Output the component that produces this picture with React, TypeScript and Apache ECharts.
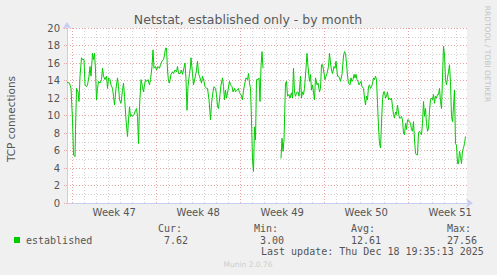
import React, { useEffect, useRef } from "react";
import * as echarts from "echarts";

// x: hours since the left edge of the plot (800 h = 33.3 days), y: TCP connections
const hours = [
  0, 5, 8, 11, 13, 16, 17, 19, 22, 24,
  26, 29, 31, 34, 36, 39, 41, 44, 46, 48,
  51, 53, 55, 57, 59, 61, 63, 66, 69, 71,
  73, 76, 79, 81, 83, 86, 88, 91, 93, 95,
  98, 101, 103, 105, 108, 111, 113, 115, 118, 121,
  123, 125, 127, 129, 131, 134, 137, 139, 141, 143,
  145, 148, 151, 153, 155, 157, 159, 162, 165, 167,
  170, 172, 174, 177, 179, 182, 185, 187, 190, 193,
  195, 197, 199, 201, 203, 205, 208, 211, 213, 216,
  219, 221, 223, 226, 229, 231, 233, 236, 238, 240,
  242, 245, 247, 248, 251, 253, 256, 259, 261, 263,
  266, 269, 271, 274, 276, 279, 281, 284, 287, 289,
  292, 294, 297, 299, 301, 303, 306, 308, 311, 313,
  315, 317, 319, 322, 325, 327, 330, 332, 335, 337,
  340, 343, 345, 348, 351, 353, 355, 358, 361, 363,
  365, 367, 369, 371, 373, 375, 377, 379, 382, 384,
  386, 388, 390, 392,
  410,
  428, 430, 432, 434, 437, 439, 441, 444, 446, 449,
  451, 453, 455, 457, 459, 462, 464, 467, 469, 471,
  473, 475, 478, 480, 482, 485, 487, 489, 491, 493,
  495, 497, 500, 502, 505, 507, 509, 511, 513, 516,
  518, 520, 523, 525, 527, 529, 531, 534, 536, 538,
  541, 543, 545, 547, 550, 553, 555, 557, 559, 561,
  563, 566, 568, 570, 572, 574, 576, 578, 580, 582,
  584, 586, 588, 590,
  593, 595, 597, 599, 601, 603, 605, 607, 609, 611,
  613, 615, 617, 619, 621, 623, 625, 627, 629, 631,
  633, 635, 637, 639, 641, 643, 645, 647, 649, 651,
  653, 655, 657, 659, 661, 663, 665, 667, 669, 671,
  673, 675, 677, 679, 681, 683, 685, 687, 689, 691,
  693, 695, 697, 699, 701, 703, 705, 707, 709, 711,
  713, 715, 717, 719, 721, 723, 725, 727, 729, 731,
  733, 735, 737, 739, 741, 743, 745, 747, 749, 751,
  753, 755, 757, 759, 761, 763, 765, 767, 769, 771,
  773, 775, 777, 779, 781, 783, 785, 787, 789, 791,
  793, 795, 797,
];

const connections: (number | null)[] = [
  13.8, 13.7, 13.1, 9.5, 5.5, 5.3, 8.4, 13.1, 12.7, 11.6,
  14.5, 16.6, 16.4, 16.4, 13.5, 13.3, 13.5, 14.5, 15.6, 14.5,
  17.1, 16.4, 17.1, 15.2, 11.8, 13.1, 13.9, 13.7, 14.1, 15.4,
  14.5, 14.1, 14.5, 13.1, 14.3, 14.1, 13.5, 13.1, 12.2, 11.2,
  13.1, 14.3, 13.3, 11.8, 11.4, 12.9, 13.7, 12.2, 9.5, 7.6,
  9.5, 11.0, 9.9, 10.1, 9.9, 10.1, 10.6, 10.8, 9.9, 6.8,
  11.0, 14.1, 13.3, 12.7, 13.5, 14.1, 13.9, 14.1, 13.5, 14.1,
  15.6, 17.5, 15.4, 15.6, 15.2, 15.6, 15.4, 15.8, 16.2, 16.4,
  16.9, 17.7, 17.7, 15.2, 13.9, 13.7, 14.7, 15.0, 14.8, 15.2,
  15.0, 15.6, 14.8, 14.8, 15.2, 14.7, 15.2, 16.0, 14.1, 10.6,
  13.3, 14.8, 15.6, 16.6, 14.8, 13.5, 14.3, 15.2, 16.2, 14.8,
  14.3, 13.7, 14.5, 13.9, 13.3, 13.1, 13.1, 11.8, 9.5, 11.4,
  12.7, 13.3, 13.1, 12.4, 11.0, 10.8, 12.4, 13.5, 14.3, 13.3,
  11.8, 12.9, 12.0, 12.9, 13.9, 13.5, 13.3, 12.7, 13.1, 12.7,
  12.9, 13.1, 12.6, 12.4, 11.8, 12.9, 13.5, 14.3, 14.1, 14.8,
  13.7, 13.1, 9.5, 4.9, 3.6, 8.7, 7.2, 14.1, 14.1, 14.3,
  11.6, 15.6, 17.3, 15.4,
  null,
  5.1, 7.4, 5.9, 7.2, 13.7, 13.9, 12.2, 12.4, 12.0, 12.6,
  12.0, 15.4, 12.7, 12.2, 12.6, 12.7, 12.2, 14.5, 12.0, 12.7,
  12.4, 13.1, 15.4, 17.1, 15.6, 13.9, 14.7, 12.9, 13.5, 12.7,
  11.8, 14.3, 13.5, 13.7, 12.7, 13.1, 15.8, 15.8, 15.2, 14.1,
  14.5, 14.8, 15.6, 17.1, 16.0, 15.2, 14.8, 15.6, 15.4, 16.2,
  14.5, 14.5, 14.3, 13.9, 14.7, 16.8, 17.3, 17.1, 16.0, 14.5,
  13.7, 13.5, 14.3, 13.9, 14.1, 14.7, 14.3, 14.7, 14.1, 13.9,
  13.5, 13.7, 13.9, 13.3,
  13.1, 12.0, 11.2, 12.2, 11.8, 13.3, 13.5, 13.1, 13.3, 13.7,
  14.3, 14.1, 14.5, 14.1, 11.4, 8.7, 6.8, 6.3, 9.1, 11.8,
  12.7, 12.7, 12.0, 12.2, 12.7, 11.8, 12.0, 11.8, 12.0, 11.0,
  10.1, 9.7, 10.4, 10.1, 11.2, 10.3, 9.7, 9.7, 9.9, 9.5,
  8.0, 7.8, 9.1, 8.4, 9.5, 9.5, 9.3, 9.1, 8.4, 8.2,
  9.3, 7.2, 5.7, 5.5, 5.5, 8.0, 8.2, 8.0, 7.8, 9.1,
  11.6, 9.9, 10.8, 9.1, 8.2, 8.5, 10.6, 11.8, 12.0, 11.8,
  12.4, 11.4, 12.2, 12.0, 12.4, 12.4, 13.1, 11.6, 10.8, 14.3,
  17.9, 16.9, 14.1, 13.5, 14.3, 15.0, 15.8, 13.7, 9.9, 9.3,
  11.0, 12.9, 6.8, 6.6, 4.5, 4.5, 5.9, 5.3, 4.5, 6.0,
  6.3, 6.8, 7.6,
];

const weekLabels = ["Week 47", "Week 48", "Week 49", "Week 50", "Week 51"];
const titleText = "Netstat, established only - by month";
const yAxisName = "TCP connections";
const seriesName = "established";
const statLabels = ["Cur:", "Min:", "Avg:", "Max:"];
const statValues = ["7.62", "3.00", "12.61", "27.56"];
const lastUpdate = "Last update: Thu Dec 18 19:35:13 2025";
const sideText = "RRDTOOL / TOBI OETIKER";
const footerText = "Munin 2.0.76";

// axis configuration
const X_MAX = 800;
const FIRST_SUNDAY = 10.5; // hours from left edge to the first week boundary
const DAY = 24;
const WEEK = 168;

const SANS = '"DejaVu Sans", Verdana, sans-serif';
const MONO = '"DejaVu Sans Mono", monospace';
const TEXT = "#555555";
const AXIS = "#c8cdf2";
const RED = "#eaa3a3";
const GRAY = "#d2d2d2";
const GREEN = "#00cc00";

export default function App() {
  const ref = useRef<HTMLDivElement>(null);

  useEffect(() => {
    document.body.style.margin = "0";
    document.body.style.background = "#f0f0f0";
    const chart = echarts.init(ref.current!, null, { renderer: "svg" });

    const dayTicks: number[] = [];
    for (let t = FIRST_SUNDAY; t <= X_MAX; t += DAY) dayTicks.push(t);
    const weekTicks: number[] = [];
    for (let t = FIRST_SUNDAY; t <= X_MAX; t += WEEK) weekTicks.push(t);
    const weekCenters = weekLabels.map((_, i) => FIRST_SUNDAY + WEEK / 2 + i * WEEK);

    const data = hours.map((h, i) => [h, connections[i] === null ? "-" : connections[i]]);

    const statX = [158, 254, 351, 447];
    const valX = [164, 260, 351, 447];

    const graphics: any[] = [
      {
        type: "text", x: 248, y: 19,
        style: { text: titleText, fill: "#5a5a5a", font: `12.5px ${SANS}`, textAlign: "center", textVerticalAlign: "middle" },
      },
      {
        type: "text", x: 11, y: 119, rotation: Math.PI / 2,
        style: { text: yAxisName, fill: TEXT, font: `10.5px ${SANS}`, textAlign: "center", textVerticalAlign: "middle" },
      },
      {
        type: "text", x: 487, y: 54, rotation: -Math.PI / 2,
        style: { text: sideText, fill: "#c4c4c4", font: `7.5px ${SANS}`, textAlign: "center", textVerticalAlign: "middle" },
      },
      { type: "rect", shape: { x: 14, y: 237, width: 6, height: 6 }, style: { fill: GREEN } },
      {
        type: "text", x: 26, y: 240,
        style: { text: seriesName, fill: TEXT, font: `10px ${MONO}`, textAlign: "left", textVerticalAlign: "middle" },
      },
      {
        type: "text", x: 261, y: 251.5,
        style: { text: lastUpdate, fill: TEXT, font: `10px ${MONO}`, textAlign: "left", textVerticalAlign: "middle" },
      },
      {
        type: "text", x: 248, y: 264,
        style: { text: footerText, fill: "#cdcdcd", font: `7.5px ${SANS}`, textAlign: "center", textVerticalAlign: "middle" },
      },
    ];
    statLabels.forEach((s, i) => {
      graphics.push({
        type: "text", x: statX[i], y: 228,
        style: { text: s, fill: TEXT, font: `10px ${MONO}`, textAlign: "left", textVerticalAlign: "middle" },
      });
      graphics.push({
        type: "text", x: valX[i], y: 240,
        style: { text: statValues[i], fill: TEXT, font: `10px ${MONO}`, textAlign: "left", textVerticalAlign: "middle" },
      });
    });

    const option: any = {
      animation: false,
      backgroundColor: "#f0f0f0",
      grid: {
        left: 67, top: 28, width: 400, height: 175,
        show: true, backgroundColor: "#ffffff", borderWidth: 0,
        containLabel: false, outerBoundsMode: "none",
      },
      xAxis: [
        {
          type: "value", min: 0, max: X_MAX, position: "bottom",
          axisLine: {
            show: true, onZero: false,
            lineStyle: { color: AXIS, width: 1 },
            symbol: ["none", "arrow"], symbolSize: [7, 7], symbolOffset: [0, 6],
          },
          axisTick: { show: false, customValues: dayTicks },
          axisLabel: { show: false },
          splitLine: { show: true, lineStyle: { color: GRAY, width: 1, type: [1, 2] } },
        },
        {
          type: "value", min: 0, max: X_MAX, position: "bottom",
          axisLine: { show: false },
          axisTick: { show: false, customValues: weekTicks },
          axisLabel: {
            show: true, customValues: weekCenters, margin: 4,
            fontSize: 10, color: TEXT, fontFamily: SANS,
            formatter: (v: number) => {
              const i = weekCenters.findIndex((c) => Math.abs(c - v) < 1);
              return i >= 0 ? weekLabels[i] : "";
            },
          },
          splitLine: { show: true, lineStyle: { color: RED, width: 1, type: [1, 2] } },
        },
      ],
      yAxis: {
        type: "value", min: 0, max: 20, interval: 2,
        axisLine: {
          show: true, onZero: false,
          lineStyle: { color: AXIS, width: 1 },
          symbol: ["none", "arrow"], symbolSize: [7, 7], symbolOffset: [0, 6],
        },
        axisTick: { show: true, length: 3, lineStyle: { color: RED, type: [1, 1] } },
        axisLabel: { fontSize: 10, color: TEXT, margin: 7, fontFamily: SANS },
        splitLine: { show: true, lineStyle: { color: RED, width: 1, type: [1, 2] } },
        minorTick: { show: false, splitNumber: 2 },
        minorSplitLine: { show: true, lineStyle: { color: GRAY, width: 1, type: [1, 2] } },
      },
      series: [
        {
          name: seriesName,
          type: "line",
          xAxisIndex: 0,
          data,
          showSymbol: false,
          symbol: "none",
          connectNulls: false,
          lineStyle: { color: GREEN, width: 1 },
          itemStyle: { color: GREEN },
          z: 5,
        },
      ],
      graphic: graphics,
    };

    chart.setOption(option);
    return () => chart.dispose();
  }, []);

  return <div ref={ref} style={{ width: 497, height: 275, background: "#f0f0f0" }} />;
}
